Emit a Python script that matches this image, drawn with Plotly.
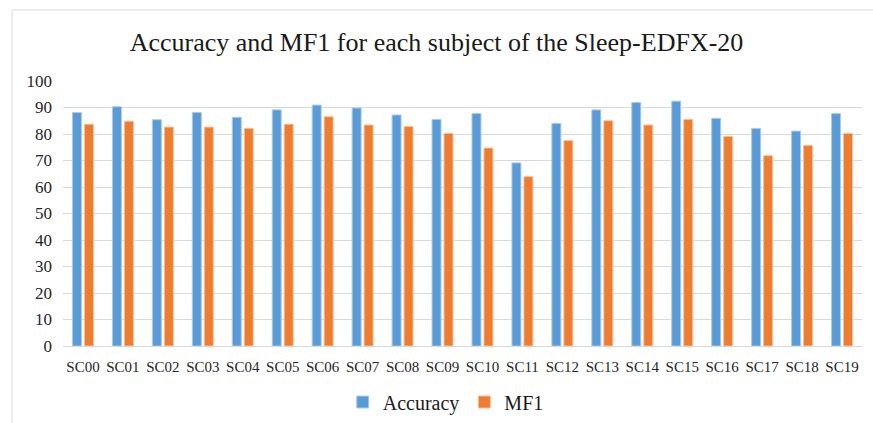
import plotly.graph_objects as go

subjects = ["SC00", "SC01", "SC02", "SC03", "SC04", "SC05", "SC06", "SC07", "SC08", "SC09",
            "SC10", "SC11", "SC12", "SC13", "SC14", "SC15", "SC16", "SC17", "SC18", "SC19"]
accuracy = [88.1, 90.3, 85.4, 88.1, 86.3, 89.1, 90.9, 89.8, 87.2, 85.5,
            87.7, 69.1, 84.0, 89.1, 91.9, 92.4, 85.9, 82.1, 81.1, 87.7]
mf1 = [83.7, 84.8, 82.6, 82.6, 82.1, 83.7, 86.5, 83.4, 82.8, 80.2,
       74.7, 63.9, 77.5, 85.0, 83.4, 85.5, 79.1, 71.8, 75.7, 80.2]
y_ticks = list(range(0, 101, 10))

serif = "Liberation Serif, Times New Roman, serif"

fig = go.Figure()
fig.add_trace(go.Bar(name="Accuracy", x=subjects, y=accuracy,
                     marker=dict(color="#5B9BD5", line=dict(color="#A9CBEA", width=1))))
fig.add_trace(go.Bar(name="MF1", x=subjects, y=mf1,
                     marker=dict(color="#ED7D31", line=dict(color="#F6BE98", width=1))))

fig.update_layout(
    width=873, height=423,
    margin=dict(l=63, r=11, t=81, b=77, autoexpand=False),
    paper_bgcolor="white", plot_bgcolor="white",
    barmode="group", bargap=0.4, bargroupgap=0.25,
    font=dict(family=serif, color="#262626"),
    title=dict(text="Accuracy and MF1 for each subject of the Sleep-EDFX-20",
               x=0.5, xanchor="center", yref="container", y=1 - 42 / 423, yanchor="middle",
               font=dict(family=serif, size=26, color="#1a1a1a")),
    legend=dict(orientation="h", x=0.479, xanchor="center",
                yref="container", y=1 - 402 / 423, yanchor="middle",
                font=dict(family=serif, size=20, color="#1a1a1a"),
                itemwidth=30, traceorder="normal"),
    shapes=[dict(type="rect", xref="paper", yref="paper",
                 x0=-51 / 799, x1=1.1, y0=-0.4, y1=1 + 71 / 265,
                 line=dict(color="#D9D9D9", width=1), layer="below")],
)
fig.update_xaxes(showgrid=False, showline=True, linecolor="#D9D9D9", linewidth=1,
                 ticks="", automargin=False, ticklabelstandoff=7,
                 tickfont=dict(family=serif, size=15, color="#262626"))
fig.update_yaxes(range=[0, 100], tickvals=y_ticks, showgrid=True, gridcolor="#D9D9D9",
                 gridwidth=1, zeroline=False, showline=False, ticks="",
                 ticklabelstandoff=10, automargin=False,
                 tickfont=dict(family=serif, size=17, color="#262626"))

fig.write_html("out.html")
